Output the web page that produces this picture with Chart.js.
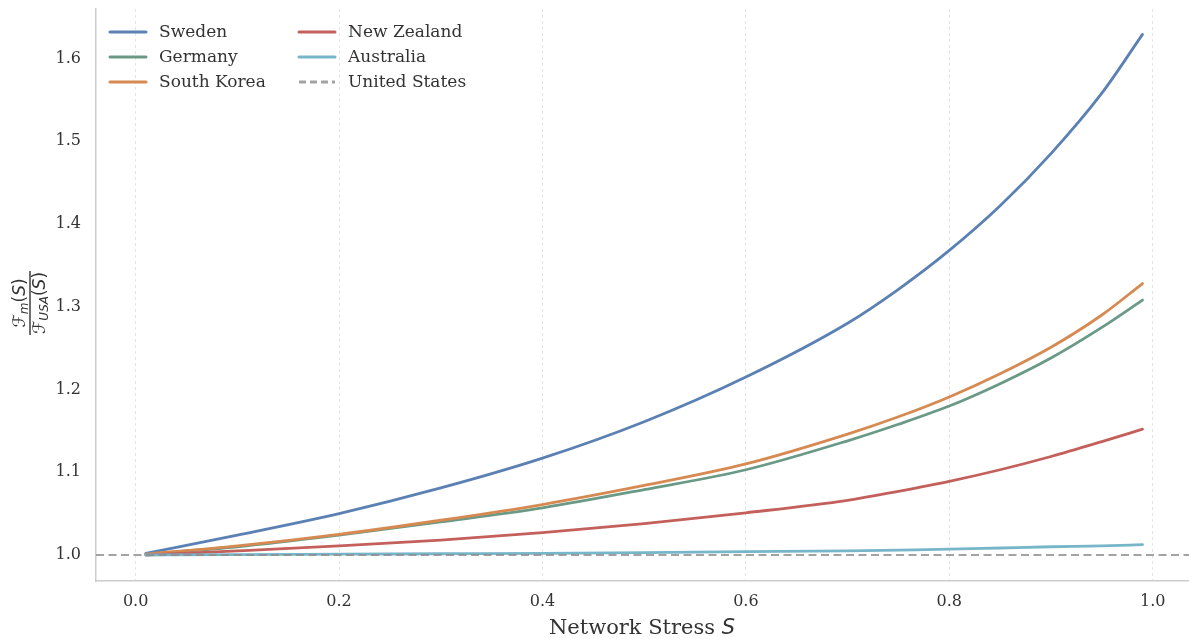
<!DOCTYPE html>
<html>
<head>
<meta charset="utf-8">
<title>Network stress ratio</title>
<script src="https://cdn.jsdelivr.net/npm/chart.js@4.4.1/dist/chart.umd.min.js"></script>
<style>
  html, body { margin: 0; padding: 0; background: #fff; }
  #wrap { width: 1189px; height: 639px; }
</style>
</head>
<body>
<div id="wrap"><canvas id="ratioChart" width="1189" height="639"></canvas></div>
<script>
// Values
const stressLevels = [0.01, 0.1, 0.2, 0.3, 0.4, 0.5, 0.6, 0.7, 0.75, 0.8, 0.85, 0.9, 0.95, 0.99];
const swedenRatio = [1.002, 1.024, 1.050, 1.081, 1.117, 1.161, 1.215, 1.280, 1.321, 1.368, 1.422, 1.485, 1.558, 1.629];
const germanyRatio = [1.001, 1.010, 1.024, 1.040, 1.057, 1.079, 1.103, 1.138, 1.158, 1.180, 1.207, 1.238, 1.275, 1.308];
const koreaRatio = [1.001, 1.011, 1.025, 1.042, 1.061, 1.084, 1.110, 1.146, 1.167, 1.191, 1.219, 1.251, 1.290, 1.328];
const nzRatio = [1.000, 1.005, 1.011, 1.018, 1.027, 1.038, 1.051, 1.066, 1.077, 1.089, 1.103, 1.119, 1.137, 1.152];
const australiaRatio = [1.000, 1.0005, 1.001, 1.0015, 1.002, 1.003, 1.004, 1.005, 1.006, 1.007, 1.0085, 1.010, 1.011, 1.0125];
const usBaseline = 1.0;

const countryNames = ['Sweden', 'Germany', 'South Korea', 'New Zealand', 'Australia'];
const countrySeries = [swedenRatio, germanyRatio, koreaRatio, nzRatio, australiaRatio];
const countryColors = ['#5b81b4', '#6a9a86', '#d68a52', '#c4605c', '#77b6c9'];

const xMin = -0.039, xMax = 1.0357;
const yMin = 0.9686, yMax = 1.6597;

const serif = "'DejaVu Serif', 'Liberation Serif', serif";
const sans = "'DejaVu Sans', 'Noto Sans', sans-serif";
const textColor = '#333333';

const datasets = countryNames.map((name, i) => ({
  label: name,
  data: stressLevels.map((s, j) => ({ x: s, y: countrySeries[i][j] })),
  borderColor: countryColors[i],
  borderWidth: 2.8,
  borderCapStyle: 'round',
  pointRadius: 0,
  cubicInterpolationMode: 'monotone',
  order: 10 - i
}));

// horizontal reference line (axhline) across the full x range
datasets.push({
  label: 'United States',
  data: [{ x: xMin, y: usBaseline }, { x: xMax, y: usBaseline }],
  borderColor: 'rgba(140,140,140,0.8)',
  borderWidth: 1.8,
  borderDash: [8, 4.5],
  pointRadius: 0,
  order: 1
});

// draws two-column legend, axis titles (incl. the fraction on y)
const extraText = {
  id: 'extraText',
  afterDraw(chart) {
    const ctx = chart.ctx;
    ctx.save();

    // legend, column-major like matplotlib ncol=2
    const colX = [110, 299];
    chart.data.datasets.forEach((ds, i) => {
      const col = Math.floor(i / 3), row = i % 3;
      const x = colX[col], y = 32 + row * 25;
      ctx.beginPath();
      ctx.strokeStyle = ds.borderColor;
      ctx.lineWidth = 3;
      ctx.lineCap = ds.borderDash ? 'butt' : 'round';
      ctx.setLineDash(ds.borderDash ? [7, 4] : []);
      ctx.moveTo(x, y);
      ctx.lineTo(x + 36, y);
      ctx.stroke();
      ctx.setLineDash([]);
      ctx.fillStyle = textColor;
      ctx.font = '17px ' + serif;
      ctx.textBaseline = 'middle';
      ctx.textAlign = 'left';
      ctx.fillText(ds.label, x + 49, y + 1);
    });

    // x title: "Network Stress S"
    ctx.textBaseline = 'alphabetic';
    ctx.font = '21px ' + serif;
    const head = 'Network Stress ';
    const headW = ctx.measureText(head).width;
    ctx.font = 'italic 21px ' + sans;
    const sW = ctx.measureText('S').width;
    let tx = 642 - (headW + sW) / 2;
    ctx.font = '21px ' + serif;
    ctx.fillText(head, tx, 634);
    ctx.font = 'italic 21px ' + sans;
    ctx.fillText('S', tx + headW, 634);

    // y title: F_m(S) / F_USA(S), rotated
    const runWidth = (parts) => parts.reduce((w, p) => {
      ctx.font = (p.italic ? 'italic ' : '') + p.size + 'px ' + sans;
      return w + ctx.measureText(p.t).width;
    }, 0);
    const drawRun = (parts, baseY) => {
      let x = -runWidth(parts) / 2;
      parts.forEach(p => {
        ctx.font = (p.italic ? 'italic ' : '') + p.size + 'px ' + sans;
        ctx.fillText(p.t, x, baseY + (p.dy || 0));
        x += ctx.measureText(p.t).width;
      });
    };
    const num = [
      { t: 'ℱ', size: 17 }, { t: 'm', size: 12, dy: 3, italic: true },
      { t: '(', size: 17 }, { t: 'S', size: 17, italic: true }, { t: ')', size: 17 }
    ];
    const den = [
      { t: 'ℱ', size: 17 }, { t: 'USA', size: 12, dy: 3, italic: true },
      { t: '(', size: 17 }, { t: 'S', size: 17, italic: true }, { t: ')', size: 17 }
    ];
    ctx.translate(30, 303);
    ctx.rotate(-Math.PI / 2);
    ctx.fillStyle = textColor;
    drawRun(num, -5);
    drawRun(den, 15);
    const barW = Math.max(runWidth(num), runWidth(den)) + 2;
    ctx.fillRect(-barW / 2, -0.7, barW, 1.4);

    ctx.restore();
  }
};

new Chart(document.getElementById('ratioChart'), {
  type: 'line',
  data: { datasets },
  options: {
    responsive: false,
    devicePixelRatio: 1,
    animation: false,
    layout: { padding: { top: 9, right: 0, bottom: 0, left: 0 } },
    plugins: {
      legend: { display: false },
      tooltip: { enabled: false }
    },
    scales: {
      x: {
        type: 'linear',
        min: xMin,
        max: xMax,
        afterFit: (s) => { s.height = 58; s.paddingLeft = 0; s.paddingRight = 0; },
        ticks: {
          stepSize: 0.2,
          includeBounds: false,
          callback: (v) => v.toFixed(1),
          color: textColor,
          font: { family: serif, size: 16 },
          padding: 11,
          maxRotation: 0
        },
        grid: { color: '#e4e4e4', lineWidth: 1, drawTicks: false },
        border: { display: true, color: '#cccccc', width: 1.5, dash: [3, 3] }
      },
      y: {
        min: yMin,
        max: yMax,
        afterFit: (s) => { s.width = 96; s.paddingTop = 0; s.paddingBottom = 0; },
        ticks: {
          stepSize: 0.1,
          includeBounds: false,
          callback: (v) => v.toFixed(1),
          color: textColor,
          font: { family: serif, size: 16 },
          padding: 15
        },
        grid: { display: false, drawTicks: false },
        border: { display: true, color: '#cccccc', width: 1.5 }
      }
    }
  },
  plugins: [extraText]
});
</script>
</body>
</html>
